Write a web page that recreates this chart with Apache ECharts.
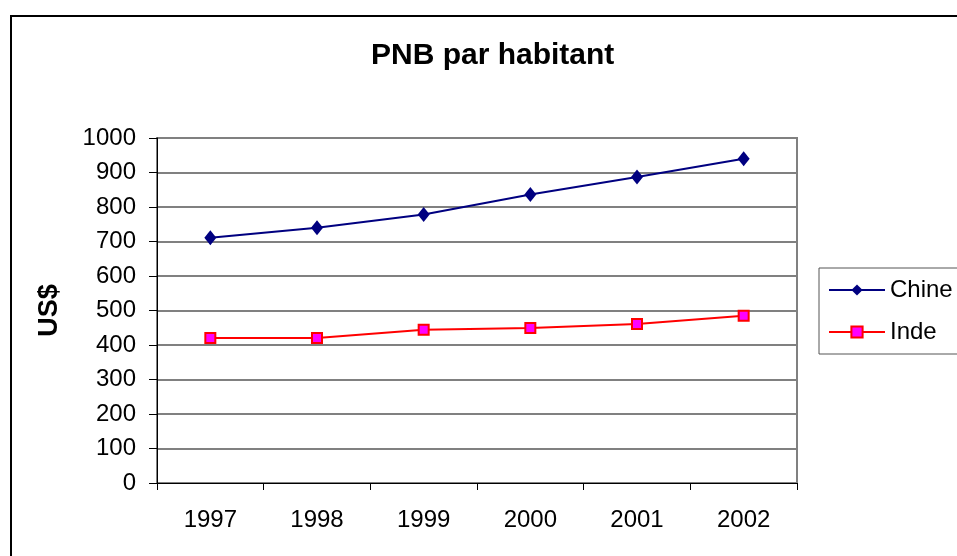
<!DOCTYPE html>
<html>
<head>
<meta charset="utf-8">
<script src="https://cdn.jsdelivr.net/npm/echarts@6/dist/echarts.min.js"></script>
<style>
  html, body { margin: 0; padding: 0; background: #fff; }
  #chart { width: 957px; height: 556px; }
</style>
</head>
<body>
<div id="chart"></div>
<script>
// valeurs
const years = ['1997', '1998', '1999', '2000', '2001', '2002']
const chine = [711, 740, 778, 836, 887, 940]
const inde = [420, 420, 444, 449, 461, 485]
const yTicks = { min: 0, max: 1000, interval: 100 }

const chartObj = echarts.init(document.getElementById('chart'))
const font = 'Liberation Sans, Arial, sans-serif'

const option = {
  backgroundColor: '#fff',
  animation: false,
  title: {
    text: 'PNB par habitant',
    left: 366,
    top: 36,
    textStyle: { fontFamily: font, fontSize: 30, fontWeight: 'bold', color: '#000' }
  },
  graphic: [
    {
      // cadre extérieur
      type: 'polyline',
      shape: { points: [[11, 556], [11, 16], [957, 16]] },
      style: { stroke: '#000', lineWidth: 2, fill: null }
    }
  ],
  legend: {
    orient: 'vertical',
    left: 819,
    top: 268,
    padding: [8, 30, 8, 9],
    itemWidth: 56,
    itemHeight: 14,
    itemGap: 14,
    borderColor: '#555',
    borderWidth: 1,
    textStyle: { fontFamily: font, fontSize: 24, color: '#000', lineHeight: 28 },
    data: ['Chine', 'Inde']
  },
  grid: {
    left: 157,
    right: 160,
    top: 138,
    bottom: 73,
    show: true,
    borderColor: '#808080',
    borderWidth: 2
  },
  xAxis: {
    type: 'category',
    data: years,
    boundaryGap: true,
    axisLine: { lineStyle: { color: '#000', width: 1 } },
    axisTick: { show: true, length: 7, lineStyle: { color: '#000' } },
    axisLabel: { margin: 25, fontFamily: font, fontSize: 24, color: '#000' }
  },
  yAxis: {
    type: 'value',
    min: yTicks.min,
    max: yTicks.max,
    interval: yTicks.interval,
    name: 'US$',
    nameLocation: 'middle',
    nameRotate: 90,
    nameGap: 94,
    nameTextStyle: { fontFamily: font, fontSize: 27, fontWeight: 'bold', color: '#000' },
    axisLine: { show: true, lineStyle: { color: '#000', width: 1 } },
    axisTick: { show: true, length: 8, lineStyle: { color: '#000' } },
    axisLabel: {
      margin: 21,
      fontFamily: font,
      fontSize: 24,
      color: '#000',
      formatter: (v) => String(v)
    },
    splitLine: { show: true, lineStyle: { color: '#808080', width: 2 } }
  },
  series: [
    {
      name: 'Chine',
      type: 'line',
      data: chine,
      symbol: 'diamond',
      symbolSize: [12, 15],
      lineStyle: { color: '#000080', width: 2 },
      itemStyle: { color: '#000080' }
    },
    {
      name: 'Inde',
      type: 'line',
      data: inde,
      symbol: 'rect',
      symbolSize: 10,
      lineStyle: { color: '#ff0000', width: 2 },
      itemStyle: { color: '#ff00ff', borderColor: '#ff0000', borderWidth: 2 }
    }
  ]
}
chartObj.setOption(option)
</script>
</body>
</html>
